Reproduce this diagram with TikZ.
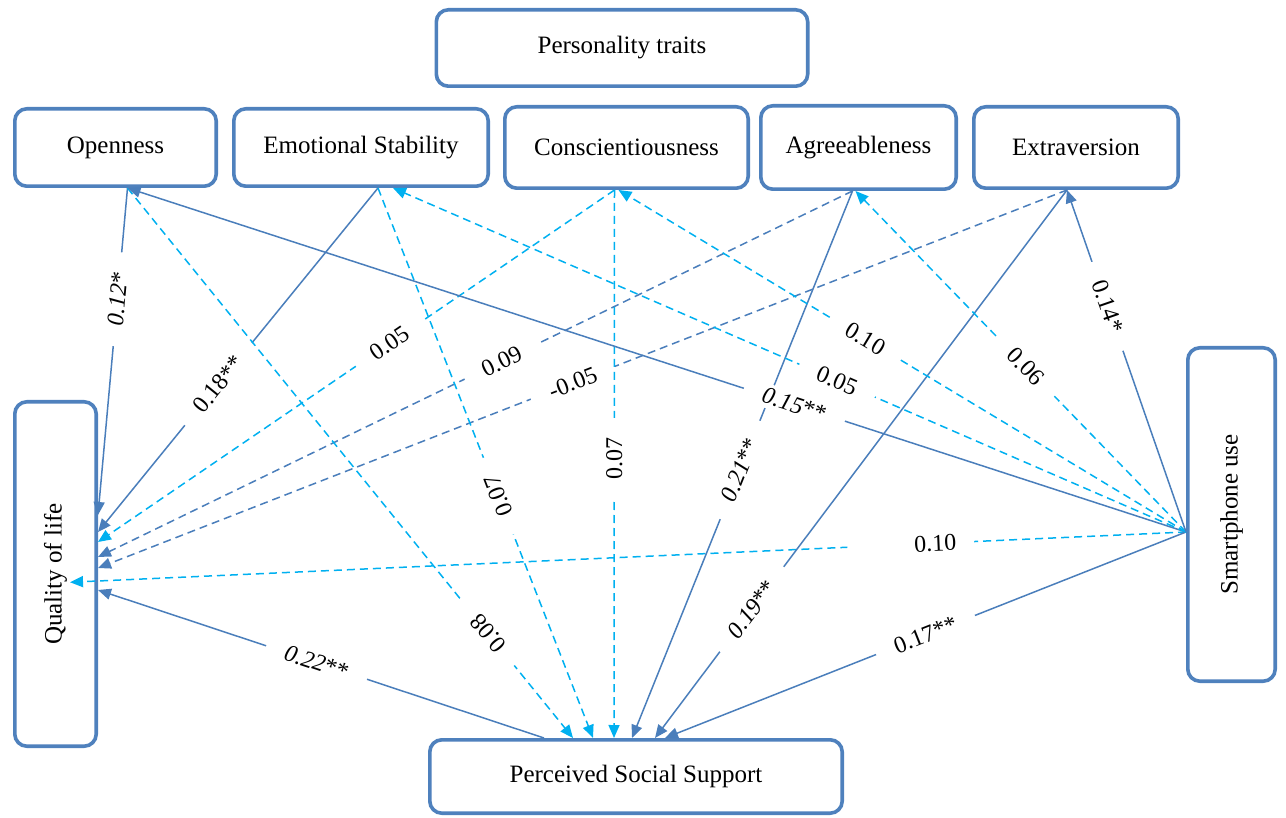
\documentclass[tikz,border=0pt]{standalone}
\usepackage{fontspec}
\setmainfont{Liberation Serif}
\usetikzlibrary{positioning,arrows.meta}
\definecolor{boxblue}{HTML}{4F81BD}
\definecolor{linkblue}{HTML}{4A7EBB}
\definecolor{linkcyan}{HTML}{00B0F0}

\begin{document}
\begin{tikzpicture}[x=0.5pt,y=-0.5pt,font=\fontsize{12}{14}\selectfont,
    box/.style={draw=boxblue,line width=1.8pt,rounded corners=6pt,inner sep=0pt,fill=white,
        font=\fontsize{12.5}{15}\selectfont},
    sig/.style={draw=linkblue,line width=0.75pt,-{Triangle[length=6.5pt,width=5.5pt]}},
    ns/.style={sig,draw=linkcyan,dash pattern=on 4pt off 2.5pt},
    nsb/.style={sig,dash pattern=on 4pt off 2.5pt},
    lbl/.style={fill=white,inner xsep=10pt,inner ysep=2pt}]
    \useasboundingbox (0,0) rectangle (1286,818);
    % boxes
    \node[box,minimum width=185.7pt,minimum height=38.2pt] (traits) at (622,48) {Personality traits};
    \node[box,minimum width=100.7pt,minimum height=38.7pt] (open) at (115.5,147.5) {Openness};
    \node[box,minimum width=127.2pt,minimum height=38.7pt,right=7pt of open] (emo) {Emotional Stability};
    \node[box,minimum width=121.7pt,minimum height=40.7pt,right=6.5pt of emo] (con) {Conscientiousness};
    \node[box,minimum width=97.7pt,minimum height=41.7pt,right=4.5pt of con] (agr) {Agreeableness};
    \node[box,minimum width=102.2pt,minimum height=40.7pt,right=7pt of agr] (ext) {Extraversion};
    \node[box,minimum width=40.7pt,minimum height=172.2pt] (qol) at (55.5,574) {\rotatebox{90}{Quality of life}};
    \node[box,minimum width=43.7pt,minimum height=166.7pt] (smart) at (1231.5,514.5) {\rotatebox{90}{Smartphone use}};
    \node[box,minimum width=206.2pt,minimum height=36.7pt] (pss) at (636,776.5) {Perceived Social Support};
    % paths into quality of life
    \path
        ([xshift=6pt]open.south) edge[sig] node[lbl,sloped,pos=.34] {\textit{0.12}*} ([yshift=29.5pt]qol.east)
        ([xshift=8.5pt]emo.south) edge[sig] node[lbl,sloped,pos=.57] {0.18**} ([yshift=21pt]qol.east)
        ([xshift=-6pt]con.south) edge[ns] node[lbl,sloped,pos=.435] {0.05} ([yshift=16pt]qol.east)
        ([xshift=-3pt]agr.south) edge[nsb] node[lbl,sloped,pos=.465] {0.09} ([yshift=8.5pt]qol.east)
        ([xshift=-4.5pt]ext.south) edge[nsb] node[lbl,sloped,pos=.51] {-0.05} ([yshift=3pt]qol.east)
        ([yshift=-8.75pt]smart.west) edge[ns,shorten >=-14pt] node[lbl,sloped,pos=.253,inner xsep=9pt,
            text width=45.5pt,align=right] {0.10} ([yshift=-3.5pt]qol.east)
        ([xshift=-46pt]pss.north) edge[sig] node[lbl,sloped,pos=.51] {\textit{0.22}**} ([yshift=-8pt]qol.east);
    % paths into perceived social support
    \path
        ([xshift=6pt]open.south) edge[ns] node[lbl,rotate=130,pos=.81] {0.08} ([xshift=-31.5pt]pss.north)
        ([xshift=8.5pt]emo.south) edge[ns] node[lbl,rotate=111,pos=.56] {0.07} ([xshift=-21.5pt]pss.north)
        ([xshift=-6pt]con.south) edge[ns] node[lbl,rotate=90,pos=.49] {0.07} ([xshift=-11pt]pss.north)
        ([xshift=-3pt]agr.south) edge[sig] node[lbl,sloped,pos=.51] {\textit{0.21}**} ([xshift=-2pt]pss.north)
        ([xshift=-4.5pt]ext.south) edge[sig] node[lbl,sloped,pos=.765] {\textit{0.19}**} ([xshift=9.5pt]pss.north)
        ([yshift=-8.75pt]smart.west) edge[sig] node[lbl,sloped,pos=.5] {0.17**} ([xshift=14.5pt]pss.north);
    % paths from smartphone use to the traits
    \path
        ([yshift=-8.75pt]smart.west) edge[sig] node[lbl,sloped,pos=.37] {\textit{0.15}**} ([xshift=6pt]open.south)
        ([yshift=-8.75pt]smart.west) edge[ns] node[lbl,sloped,pos=.44] {0.05} ([xshift=16pt]emo.south)
        ([yshift=-8.75pt]smart.west) edge[ns] node[lbl,sloped,pos=.565] {0.10} ([xshift=-4pt]con.south)
        ([yshift=-8.75pt]smart.west) edge[ns] node[lbl,sloped,pos=.485] {0.06} ([xshift=-1.5pt]agr.south)
        ([yshift=-8.75pt]smart.west) edge[sig] node[lbl,sloped,pos=.66] {0.14*} ([xshift=-4.5pt]ext.south);
\end{tikzpicture}
\end{document}
